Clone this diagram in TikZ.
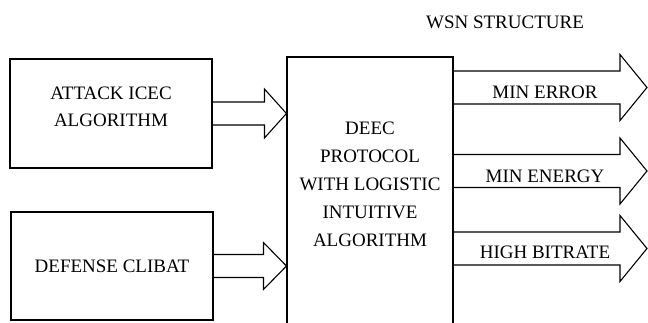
\documentclass[tikz,border=0pt]{standalone}
\usepackage{fontspec}
\setmainfont{Liberation Serif}
\usetikzlibrary{calc}
\tikzset{
  box/.style={draw,line width=1.1pt,rectangle,inner sep=0pt},
  lbl/.style={font=\fontsize{19}{28}\selectfont,align=center,inner sep=0pt},
}
% hollow block arrow: {start}{tip}{half shaft}{half head}{head length}
\newcommand{\blockarrow}[5]{%
  \draw[line width=1.1pt,line join=miter]
    ($(#1 |- #2)+(0,#3)$) -- ($(#2)+(-#5,#3)$) -- ($(#2)+(-#5,#4)$) -- (#2)
    -- ($(#2)+(-#5,-#4)$) -- ($(#2)+(-#5,-#3)$) -- ($(#1 |- #2)+(0,-#3)$);
}

\begin{document}
\begin{tikzpicture}[x=1pt,y=1pt]
    \useasboundingbox (0,0) rectangle (648,322);
    \clip (0,0) rectangle (648,322);
      \node[box,minimum width=202pt,minimum height=109pt] (attack) at (111,208.5) {};
      \node[box,minimum width=202pt,minimum height=108pt] (defense) at (112,56) {};
      \node[box,minimum width=166pt,minimum height=275pt] (deec) at (370,127.5) {};
      \node[lbl,font=\fontsize{19}{27}\selectfont] (attacktxt) at (111,214.8) {ATTACK ICEC\\ALGORITHM};
      \node[lbl] (defensetxt) at (defense) {DEFENSE CLIBAT};
      \node[lbl] (deectxt) at (370,137.3) {DEEC\\PROTOCOL\\WITH LOGISTIC\\INTUITIVE\\ALGORITHM};
      \node[lbl,anchor=base] (wsn) at (505,293) {WSN STRUCTURE};
      % inputs
      \coordinate (atip) at (deec.west |- attack.east);
      \coordinate (dtip) at (deec.west |- defense.east);
      \blockarrow{attack.east}{atip}{11.5}{24.5}{22}
      \blockarrow{defense.east}{dtip}{11.5}{23.5}{23}
      % outputs
      \coordinate (errtip) at (647,234.5);
      \coordinate (enrtip) at (647,151);
      \coordinate (bittip) at (647,73.5);
      \blockarrow{deec.east}{errtip}{16.5}{33}{27}
      \blockarrow{deec.east}{enrtip}{16.5}{33}{27}
      \blockarrow{deec.east}{bittip}{16.5}{33}{27}
      \node[lbl,anchor=base] (err) at (545,223) {MIN ERROR};
      \node[lbl,anchor=base] (enr) at (545,140) {MIN ENERGY};
      \node[lbl,anchor=base] (bit) at (545,64) {HIGH BITRATE};
\end{tikzpicture}
\end{document}
